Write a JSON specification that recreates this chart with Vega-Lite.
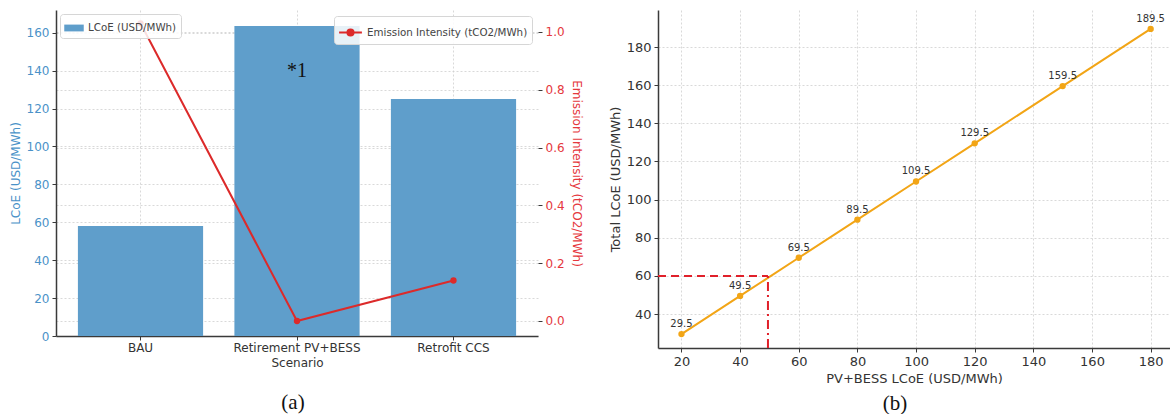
{
  "$schema": "https://vega.github.io/schema/vega-lite/v6.json",
  "padding": {"left": 9, "top": 10, "right": 0, "bottom": 0},
  "background": "white",
  "config": {
    "font": "DejaVu Sans",
    "view": {"stroke": null},
    "axis": {"gridColor": "#cfcfcf", "gridDash": [2, 2], "gridWidth": 0.8, "domainColor": "#3a3a3a", "domainWidth": 1.5, "tickColor": "#3a3a3a", "tickSize": 4, "labelColor": "#333", "titleColor": "#333", "titleFontWeight": "normal", "labelFontSize": 12, "titleFontSize": 12},
    "legend": {"labelFont": "DejaVu Sans", "labelFontSize": 10.3, "labelColor": "#444", "labelLimit": 0, "fillColor": "rgba(255,255,255,0.85)", "strokeColor": "#d6d6d6", "cornerRadius": 3, "padding": 4, "title": null},
    "title": {"font": "Liberation Serif", "fontSize": 21, "fontWeight": "normal", "color": "#111"}
  },
  "spacing": 26,
  "hconcat": [
    {
      "width": 482,
      "height": 326,
      "title": {"text": "(a)", "orient": "bottom", "anchor": "middle", "offset": 24, "dx": -4},
      "data": {"values": [
        {"Scenario": "BAU", "LCoE": 58, "Emission": 1.03},
        {"Scenario": "Retirement PV+BESS", "LCoE": 163.5, "Emission": 0.0},
        {"Scenario": "Retrofit CCS", "LCoE": 125, "Emission": 0.14}
      ]},
      "layer": [
        {
          "layer": [
            {
              "mark": {"type": "bar"},
              "encoding": {
                "x": {"field": "Scenario", "type": "nominal", "sort": null, "scale": {"paddingInner": 0.2, "paddingOuter": 0.14},
                  "axis": {"title": "Scenario", "labelAngle": 0, "grid": true, "titlePadding": 4, "labelPadding": 2}},
                "y": {"field": "LCoE", "type": "quantitative", "scale": {"domain": [0, 172], "nice": false, "zero": false},
                  "axis": {"title": "LCoE (USD/MWh)", "values": [0, 20, 40, 60, 80, 100, 120, 140, 160], "labelColor": "#4a92c8", "titleColor": "#4a92c8", "grid": true, "titlePadding": 4, "labelPadding": 3}},
                "color": {"datum": "LCoE (USD/MWh)", "type": "nominal", "scale": {"range": ["#5f9ecb"]},
                  "legend": {"orient": "top-left", "offset": 4, "symbolType": "M-1,-0.35H1V0.35H-1Z", "symbolSize": 380, "symbolStrokeWidth": 0}}
              }
            },
            {
              "data": {"values": [{"Scenario": "Retirement PV+BESS", "LCoE": 140, "note": "*1"}]},
              "mark": {"type": "text", "font": "Liberation Serif", "fontSize": 20, "color": "#111"},
              "encoding": {
                "x": {"field": "Scenario", "type": "nominal", "sort": null},
                "y": {"field": "LCoE", "type": "quantitative"},
                "text": {"field": "note"}
              }
            }
          ]
        },
        {
          "layer": [
            {
              "mark": {"type": "line", "strokeWidth": 2},
              "encoding": {
                "x": {"field": "Scenario", "type": "nominal", "sort": null},
                "y": {"field": "Emission", "type": "quantitative", "scale": {"domain": [-0.052, 1.076], "nice": false, "zero": false},
                  "axis": {"orient": "right", "title": "Emission Intensity (tCO2/MWh)", "values": [0, 0.2, 0.4, 0.6, 0.8, 1.0], "format": ".1f", "labelColor": "#e5383d", "titleColor": "#e5383d", "grid": true, "domain": false, "titlePadding": 5, "labelPadding": 3}},
                "stroke": {"datum": "Emission Intensity (tCO2/MWh)", "type": "nominal", "scale": {"range": ["#dc2a2a"]},
                  "legend": {"orient": "top-right", "offset": 6, "symbolType": "M-1,0L1,0M-0.27,0A0.27,0.27 0 1,1 0.27,0A0.27,0.27 0 1,1 -0.27,0", "symbolSize": 520, "symbolStrokeWidth": 2, "symbolFillColor": "#dc2a2a"}}
              }
            },
            {
              "mark": {"type": "point", "filled": true, "size": 40, "color": "#dc2a2a", "opacity": 1},
              "encoding": {
                "x": {"field": "Scenario", "type": "nominal", "sort": null},
                "y": {"field": "Emission", "type": "quantitative"}
              }
            }
          ]
        }
      ],
      "resolve": {"scale": {"y": "independent", "color": "independent", "stroke": "independent"}, "legend": {"color": "independent", "stroke": "independent"}}
    },
    {
      "width": 512,
      "height": 338,
      "title": {"text": "(b)", "orient": "bottom", "anchor": "middle", "offset": 8, "dx": -19},
      "data": {"values": [
        {"pv": 20, "total": 29.5, "lbl": "29.5"},
        {"pv": 40, "total": 49.5, "lbl": "49.5"},
        {"pv": 60, "total": 69.5, "lbl": "69.5"},
        {"pv": 80, "total": 89.5, "lbl": "89.5"},
        {"pv": 100, "total": 109.5, "lbl": "109.5"},
        {"pv": 120, "total": 129.5, "lbl": "129.5"},
        {"pv": 150, "total": 159.5, "lbl": "159.5"},
        {"pv": 180, "total": 189.5, "lbl": "189.5"}
      ]},
      "layer": [
        {
          "mark": {"type": "line", "color": "#f2a516", "strokeWidth": 2},
          "encoding": {
            "x": {"field": "pv", "type": "quantitative", "scale": {"domain": [12, 186.6], "nice": false, "zero": false},
              "axis": {"title": "PV+BESS LCoE (USD/MWh)", "values": [20, 40, 60, 80, 100, 120, 140, 160, 180], "labelFontSize": 13, "titleFontSize": 13, "grid": true, "titlePadding": 4, "labelPadding": 3}},
            "y": {"field": "total", "type": "quantitative", "scale": {"domain": [22.2, 199.4], "nice": false, "zero": false},
              "axis": {"title": "Total LCoE (USD/MWh)", "values": [40, 60, 80, 100, 120, 140, 160, 180], "labelFontSize": 13, "titleFontSize": 13, "grid": true, "titlePadding": 4, "labelPadding": 3}}
          }
        },
        {
          "mark": {"type": "point", "filled": true, "size": 40, "color": "#f2a516", "opacity": 1},
          "encoding": {
            "x": {"field": "pv", "type": "quantitative"},
            "y": {"field": "total", "type": "quantitative"}
          }
        },
        {
          "mark": {"type": "text", "fontSize": 10, "color": "#333", "dy": -10},
          "encoding": {
            "x": {"field": "pv", "type": "quantitative"},
            "y": {"field": "total", "type": "quantitative"},
            "text": {"field": "lbl"}
          }
        },
        {
          "data": {"values": [{"x0": 12, "x1": 49.5, "y": 60}]},
          "mark": {"type": "rule", "color": "#e0202a", "strokeWidth": 2, "strokeDash": [8, 5]},
          "encoding": {
            "x": {"field": "x0", "type": "quantitative"},
            "x2": {"field": "x1"},
            "y": {"field": "y", "type": "quantitative"}
          }
        },
        {
          "data": {"values": [{"x": 49.5, "y0": 22.2, "y1": 60}]},
          "mark": {"type": "rule", "color": "#e0202a", "strokeWidth": 2, "strokeDash": [9, 4, 2, 4]},
          "encoding": {
            "x": {"field": "x", "type": "quantitative"},
            "y": {"field": "y0", "type": "quantitative"},
            "y2": {"field": "y1"}
          }
        }
      ]
    }
  ]
}
